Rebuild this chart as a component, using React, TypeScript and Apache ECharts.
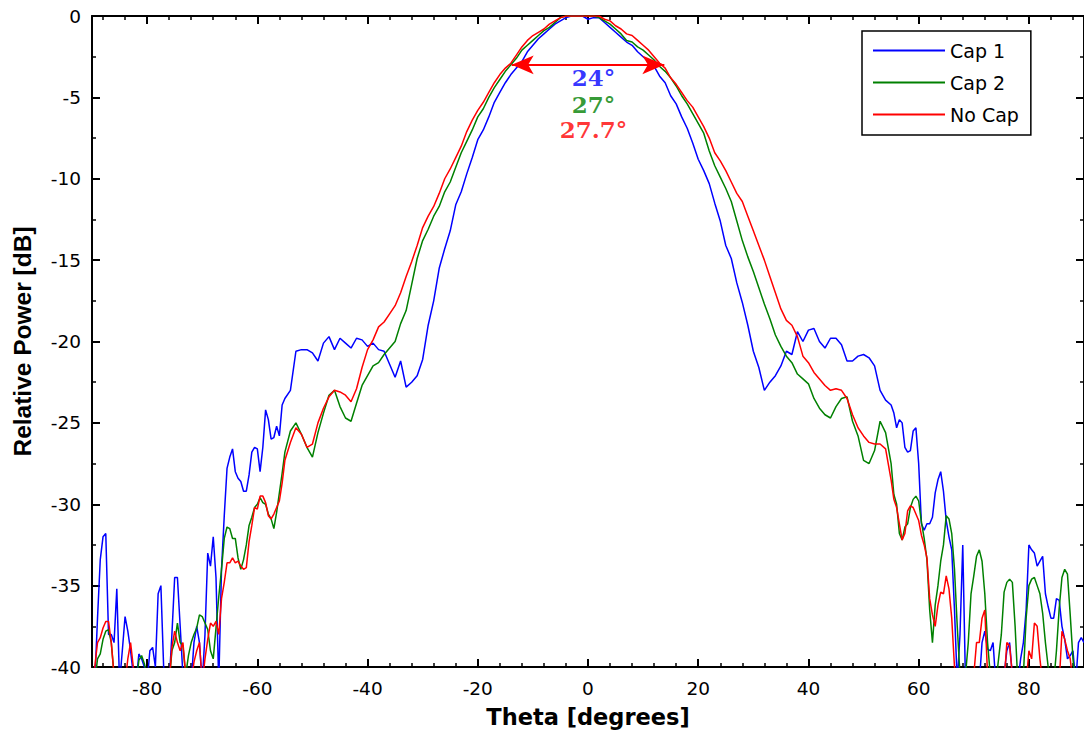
import React, { useEffect, useRef } from "react";
import * as echarts from "echarts";

// Measurement angles (degrees): 0.5° steps in the side lobes, 1° steps in the main lobe
const theta = [
  -90, -89.5, -89, -88.5, -88, -87.5, -87, -86.5, -86, -85.5,
  -85, -84.5, -84, -83.5, -83, -82.5, -82, -81.5, -81, -80.5,
  -80, -79.5, -79, -78.5, -78, -77.5, -77, -76.5, -76, -75.5,
  -75, -74.5, -74, -73.5, -73, -72.5, -72, -71.5, -71, -70.5,
  -70, -69.5, -69, -68.5, -68, -67.5, -67, -66.5, -66, -65.5,
  -65, -64.5, -64, -63.5, -63, -62.5, -62, -61.5, -61, -60.5,
  -60, -59.5, -59, -58.5, -58, -57.5, -57, -56.5, -56, -55.5,
  -55,
  -54, -53, -52, -51,
  -50, -49, -48, -47, -46, -45, -44, -43, -42, -41,
  -40, -39, -38, -37, -36, -35, -34, -33, -32, -31,
  -30, -29, -28, -27, -26, -25, -24, -23, -22, -21,
  -20, -19, -18, -17, -16, -15, -14, -13, -12, -11,
  -10, -9, -8, -7, -6, -5, -4, -3, -2, -1,
  0, 1, 2, 3, 4, 5, 6, 7, 8, 9,
  10, 11, 12, 13, 14, 15, 16, 17, 18, 19,
  20, 21, 22, 23, 24, 25, 26, 27, 28, 29,
  30, 31, 32, 33, 34, 35, 36, 37, 38, 39,
  40, 41, 42, 43, 44, 45, 46, 47, 48, 49,
  50, 51, 52, 53, 54,
  55, 55.5, 56, 56.5, 57, 57.5, 58, 58.5, 59, 59.5,
  60, 60.5, 61, 61.5, 62, 62.5, 63, 63.5, 64, 64.5,
  65, 65.5, 66, 66.5, 67, 67.5, 68, 68.5, 69, 69.5,
  70, 70.5, 71, 71.5, 72, 72.5, 73, 73.5, 74, 74.5,
  75, 75.5, 76, 76.5, 77, 77.5, 78, 78.5, 79, 79.5,
  80, 80.5, 81, 81.5, 82, 82.5, 83, 83.5, 84, 84.5,
  85, 85.5, 86, 86.5, 87, 87.5, 88, 88.5, 89, 89.5,
  90,
];

// Relative power [dB] per angle; values below the -40 dB floor are clipped by the axis
const cap1 = [
  -41, -41, -37, -33.4, -32, -31.8, -38, -38, -38.5, -35.2,
  -41, -39, -36.9, -37.8, -39, -40.5, -41, -39.2, -39.5, -40,
  -41, -39, -38.8, -40, -35.5, -35, -40, -41, -41, -38,
  -34.5, -34.5, -37.5, -40.5, -41, -41, -41, -38.5, -37.5, -38.5,
  -41, -38, -33, -33.8, -32, -34.5, -41, -34, -30.7, -27.8,
  -27.1, -26.6, -28, -28.4, -28.6, -29.2, -29.2, -28.2, -26.8, -26.5,
  -26.6, -28, -26.5, -24.2, -24.8, -26, -25.9, -25.2, -25.8, -23.9,
  -23.5,
  -23, -20.6, -20.5, -20.5,
  -20.7, -21.2, -20.1, -19.7, -20.5, -19.8, -20.1, -20.4, -19.8, -19.9,
  -20.3, -20.1, -20.5, -20.6, -21.4, -22.2, -21.2, -22.8, -22.5, -22.1,
  -21.1, -19.0, -17.5, -15.5, -14.3, -13.2, -11.6, -10.8, -9.7, -8.7,
  -7.6, -7.0, -6.2, -5.3, -4.7, -4.1, -3.6, -3.2, -2.8, -2.2,
  -1.8, -1.4, -1.1, -0.8, -0.5, -0.3, -0.1, 0, 0, 0,
  -0.2, -0.1, -0.1, -0.4, -0.7, -1.0, -1.3, -1.6, -1.8, -2.2,
  -2.5, -2.8, -3.1, -3.7, -4.1, -4.9, -5.4, -6.2, -6.9, -7.8,
  -8.8, -9.5, -10.3, -11.5, -12.6, -14.1, -14.9, -16.4, -17.6, -19.0,
  -20.6, -21.6, -23.0, -22.5, -22.1, -21.5, -20.6, -20.8, -19.4, -20.0,
  -19.3, -19.2, -20.0, -20.4, -19.8, -19.8, -20.2, -21.2, -21.2, -20.9,
  -20.8, -21.0, -21.5, -23.0, -23.6,
  -23.9, -24.4, -25.3, -24.8, -25.0, -26.5, -26.8, -26.7, -25.5, -25.3,
  -27.5, -31.2, -31.6, -31.2, -31.2, -30.8, -29.3, -28.5, -28.0, -29.2,
  -31.0, -32.0, -32.8, -36.5, -41, -38, -32.5, -41, -41, -41,
  -41, -41, -41, -38.5, -37.8, -38.9, -39, -38.5, -41, -41,
  -41, -40.5, -39, -38.5, -40.5, -41, -41, -39.5, -38.5, -36.5,
  -32.5, -32.8, -33, -33.8, -33.5, -33.2, -35.5, -36.3, -37, -37,
  -35.8, -35.9, -37.5, -38.3, -39.5, -39.3, -39, -41, -38.5, -38.2,
  -38.5,
];

const cap2 = [
  -41, -41, -39.5, -39.2, -38.3, -37.8, -37.7, -38.5, -40.5, -41,
  -41, -41, -41, -41, -41, -41, -41, -39.6, -39.3, -39.8,
  -40.5, -41, -41, -41, -41, -41, -41, -41, -41, -39,
  -38.5, -37.3, -38.5, -38.7, -40.5, -39.3, -38.5, -38, -37.6, -36.8,
  -36.9, -37.3, -37.7, -39, -39.5, -37.6, -35.7, -34, -32.1, -31.4,
  -31.5, -32.1, -32.1, -33.3, -34.0, -33.4, -32.5, -31.3, -30.8, -30.2,
  -30.0, -29.6, -29.9, -30.0, -30.6, -30.9, -31.5, -30.5, -29.3, -28.1,
  -26.8,
  -25.5, -25.0, -25.7, -26.5,
  -27.1, -25.6, -24.4, -23.3, -23.0, -24.0, -24.7, -24.9, -23.8, -22.7,
  -22.1, -21.5, -21.3, -20.8, -20.4, -20.0, -18.9, -18.1, -16.5, -14.9,
  -13.8, -13.1, -12.3, -11.7, -10.8, -10.2, -9.3, -8.4, -7.7, -7.0,
  -6.2, -5.7, -5.0, -4.4, -3.9, -3.4, -3.0, -2.6, -2.1, -1.8,
  -1.5, -1.2, -0.9, -0.7, -0.4, -0.1, 0, 0, 0, 0,
  0, 0, -0.1, -0.3, -0.5, -0.8, -1.1, -1.5, -1.6, -1.9,
  -2.1, -2.4, -2.7, -3.1, -3.4, -3.8, -4.3, -4.9, -5.4, -6.0,
  -6.6, -7.2, -8.3, -9.2, -9.9, -10.6, -11.4, -12.6, -13.8, -14.8,
  -15.7, -16.7, -17.7, -18.6, -19.6, -20.3, -20.9, -21.3, -22.0, -22.3,
  -22.6, -23.5, -24.1, -24.5, -24.7, -24.0, -23.5, -23.4, -24.9, -25.8,
  -27.3, -27.5, -26.7, -24.9, -25.6,
  -27.5, -29.4, -30.0, -31.8, -32.2, -31.4, -31.2, -30.2, -29.7, -29.5,
  -29.8, -31.1, -32.1, -33.4, -36.5, -38.5, -36.2, -35, -33.5, -32.5,
  -30.7, -30.9, -31.8, -34, -37.5, -40.5, -41, -40.5, -38.5, -35.5,
  -34.4, -33.2, -32.8, -33.5, -35.5, -38.5, -40.5, -41, -41, -39.5,
  -38, -35.4, -34.8, -34.6, -34.8, -37.5, -41, -41, -40.5, -37.0,
  -35.0, -34.6, -34.5, -35.0, -35.5, -36.7, -38.5, -40, -41, -41,
  -39, -36.4, -34.5, -34, -34.3, -36.8, -39.5, -41, -41, -41,
  -41,
];

const noCap = [
  -41, -40, -38.5, -38.2, -37.6, -37.2, -37.2, -38.5, -40.5, -41,
  -41, -41, -41, -39.5, -38.5, -40, -41, -41, -41, -41,
  -41, -41, -41, -41, -41, -41, -41, -41, -41, -38.8,
  -37.8, -38.5, -39, -38.5, -40.5, -41, -41, -39.7, -39, -38.5,
  -41, -39.5, -38.3, -37.3, -37.5, -37.2, -38, -35.8, -34.8, -33.6,
  -33.6, -33.3, -33.6, -33.5, -33.8, -34.0, -33.9, -32.3, -31.3, -30.2,
  -30.3, -29.5, -29.5, -29.9, -30.7, -30.9, -30.6, -30.2, -29.8, -28.7,
  -27.3,
  -26.2, -25.3, -25.7, -26.5,
  -26.3, -25.0, -24.1, -23.4, -23.0, -23.1, -23.3, -23.7, -22.9, -21.6,
  -20.5, -19.9, -19.1, -18.8, -18.3, -17.8, -17.0, -16.0, -15.1, -14.1,
  -13.0, -12.3, -11.7, -10.9, -10.0, -9.4, -8.7, -8.0, -7.1, -6.4,
  -5.8, -5.3, -4.7, -4.1, -3.6, -3.2, -2.9, -2.4, -1.9, -1.5,
  -1.2, -1.0, -0.8, -0.5, -0.3, -0.1, 0, 0, 0, 0,
  0, 0, 0, -0.2, -0.3, -0.6, -0.8, -1.1, -1.2, -1.5,
  -1.8, -2.1, -2.5, -2.9, -3.2, -3.8, -4.2, -4.7, -5.2, -5.6,
  -6.2, -6.8, -7.5, -8.4, -8.9, -9.5, -10.2, -10.9, -11.4, -12.3,
  -13.2, -14.1, -15.0, -16.0, -17.0, -18.0, -18.7, -19.0, -19.7, -20.9,
  -21.3, -21.9, -22.3, -22.7, -23.0, -22.9, -23.0, -23.5, -24.5, -25.3,
  -25.8, -26.2, -26.3, -26.3, -26.6,
  -28.5, -29.7, -30.2, -31.2, -32.2, -31.8, -30.4, -30.1, -30.2, -30.6,
  -31.0, -31.9, -32.5, -33.3, -35.8, -36.8, -37.5, -36.2, -35.4, -35.5,
  -34.4, -35.2, -37.0, -40, -41, -41, -41, -41, -41, -41,
  -40.5, -38.5, -38.5, -37, -36.5, -40.5, -41, -41, -41, -41,
  -41, -41, -38.5, -38.7, -40.5, -41, -41, -41, -41, -41,
  -39, -39.5, -37.3, -37.5, -39.5, -41, -41, -41, -41, -41,
  -41, -41, -37.8, -38.3, -39, -39.5, -41, -41, -41, -41,
  -41,
];

const seriesNames = ["Cap 1", "Cap 2", "No Cap"];
const seriesColors = ["#0000ff", "#008000", "#ff0000"];

// Beam widths at -3 dB (degrees)
const beamWidths = [24, 27, 27.7];
const halfPowerLevel = -3;
// Anchor points (theta, dB) of the beam-width labels
const beamLabelAnchors = [
  [1, -3.78],
  [1, -5.43],
  [1, -6.97],
];

// Axis tick positions
const xMajorTicks = [-80, -60, -40, -20, 0, 20, 40, 60, 80];
const xMinorTicks = [
  -88, -84, -76, -72, -68, -64, -56, -52, -48, -44, -36, -32, -28, -24, -16, -12, -8, -4,
  4, 8, 12, 16, 24, 28, 32, 36, 44, 48, 52, 56, 64, 68, 72, 76, 84, 88,
];

const AXIS_FONT = "DejaVu Sans";

export default function App() {
  const ref = useRef<HTMLDivElement>(null);

  useEffect(() => {
    if (!ref.current) return;
    const chart = echarts.init(ref.current, undefined, { renderer: "svg" });

    const axisLine = { show: true, onZero: false, lineStyle: { color: "#000", width: 2 } };
    const xBase = {
      type: "value" as const,
      min: -90,
      max: 90,
      splitLine: { show: false },
      axisPointer: { show: false },
    };
    const yBase = {
      type: "value" as const,
      min: -40,
      max: 0,
      interval: 5,
      splitLine: { show: false },
      minorSplitLine: { show: false },
      axisLine,
      axisTick: { show: true, inside: true, length: 8, lineStyle: { color: "#000", width: 2 } },
      minorTick: { show: true, splitNumber: 2, length: 4, lineStyle: { color: "#000", width: 1.5 } },
    };

    const dataSeries = seriesNames.map((name, i) => {
      const values = [cap1, cap2, noCap][i];
      return {
        name,
        type: "line",
        xAxisIndex: 0,
        yAxisIndex: 0,
        data: theta.map((t, k) => [t, values[k]]),
        symbol: "none",
        clip: true,
        lineStyle: { color: seriesColors[i], width: 1.5 },
        itemStyle: { color: seriesColors[i] },
        emphasis: { disabled: true },
        z: 2 + i,
        ...(i === 2
          ? {
              markLine: {
                silent: true,
                symbol: ["arrow", "arrow"],
                symbolSize: [14, 22],
                label: { show: false },
                lineStyle: { color: "#ff0000", width: 2, type: "solid" },
                emphasis: { disabled: true },
                data: [
                  [
                    { coord: [-beamWidths[2] / 2, halfPowerLevel] },
                    { coord: [beamWidths[2] / 2, halfPowerLevel] },
                  ],
                ],
              },
            }
          : {}),
      };
    });

    const option = {
      animation: false,
      backgroundColor: "#ffffff",
      grid: { left: 92, right: -4, top: 16, bottom: 68, show: false },
      legend: {
        orient: "vertical",
        left: 862,
        top: 31,
        padding: [10, 12, 11, 11],
        itemGap: 13,
        itemWidth: 72,
        itemHeight: 2,
        icon: "rect",
        borderColor: "#000",
        borderWidth: 1.5,
        borderRadius: 0,
        backgroundColor: "#ffffff",
        selectedMode: false,
        textStyle: { fontFamily: AXIS_FONT, fontSize: 19, color: "#000" },
        data: seriesNames,
      },
      xAxis: [
        {
          ...xBase,
          position: "bottom",
          axisLine,
          axisTick: {
            show: true,
            inside: true,
            length: 8,
            customValues: xMajorTicks,
            lineStyle: { color: "#000", width: 2 },
          },
          axisLabel: {
            show: true,
            customValues: xMajorTicks,
            margin: 12,
            color: "#000",
            fontFamily: AXIS_FONT,
            fontSize: 18.5,
          },
          name: "Theta [degrees]",
          nameLocation: "middle",
          nameGap: 38,
          nameTextStyle: {
            fontFamily: AXIS_FONT,
            fontWeight: "bold",
            fontSize: 22.5,
            color: "#000",
          },
        },
        {
          ...xBase,
          position: "bottom",
          axisLine: { show: false, onZero: false },
          axisTick: {
            show: true,
            inside: true,
            length: 4,
            customValues: xMinorTicks,
            lineStyle: { color: "#000", width: 1.5 },
          },
          axisLabel: { show: false },
        },
        {
          ...xBase,
          position: "top",
          axisLine,
          axisTick: {
            show: true,
            inside: true,
            length: 8,
            customValues: xMajorTicks,
            lineStyle: { color: "#000", width: 2 },
          },
          axisLabel: { show: false },
        },
        {
          ...xBase,
          position: "top",
          axisLine: { show: false, onZero: false },
          axisTick: {
            show: true,
            inside: true,
            length: 4,
            customValues: xMinorTicks,
            lineStyle: { color: "#000", width: 1.5 },
          },
          axisLabel: { show: false },
        },
      ],
      yAxis: [
        {
          ...yBase,
          position: "left",
          axisLabel: {
            show: true,
            margin: 11,
            color: "#000",
            fontFamily: AXIS_FONT,
            fontSize: 18.5,
          },
          name: "Relative Power [dB]",
          nameLocation: "middle",
          nameRotate: 90,
          nameGap: 57,
          nameTextStyle: {
            fontFamily: "Liberation Sans",
            fontWeight: "bold",
            fontSize: 24.5,
            color: "#000",
          },
        },
        {
          ...yBase,
          position: "right",
          axisLabel: { show: false },
        },
      ],
      series: [
        ...dataSeries,
        {
          name: "beam width",
          type: "scatter",
          xAxisIndex: 0,
          yAxisIndex: 0,
          symbolSize: 0,
          silent: true,
          z: 10,
          label: {
            show: true,
            position: "inside",
            fontFamily: "DejaVu Serif",
            fontWeight: "bold",
            fontSize: 23,
          },
          data: beamLabelAnchors.map((p, i) => ({
            value: p,
            label: { formatter: `${beamWidths[i]}°`, color: seriesColors[i] },
          })),
        },
      ],
    };

    chart.setOption(option as any);
    return () => chart.dispose();
  }, []);

  return (
    <div
      ref={ref}
      style={{ position: "absolute", left: 0, top: 0, width: 1084, height: 735, background: "#fff" }}
    />
  );
}
